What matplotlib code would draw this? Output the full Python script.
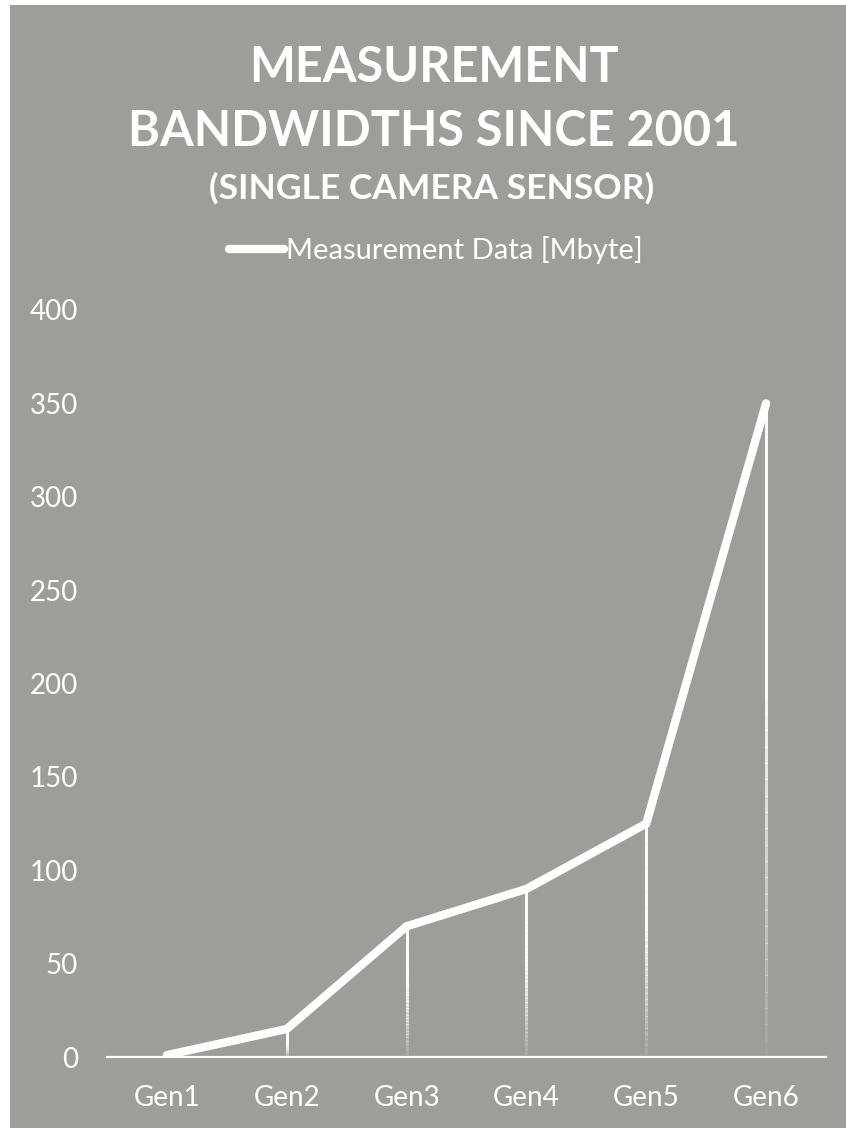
import numpy as np
import matplotlib.pyplot as plt
from matplotlib.collections import LineCollection
from matplotlib.patches import Rectangle

# camera sensor measurement data per generation
generations = ['Gen1', 'Gen2', 'Gen3', 'Gen4', 'Gen5', 'Gen6']
mbytes = [1, 15, 70, 90, 125, 350]
yticks = [0, 50, 100, 150, 200, 250, 300, 350, 400]

bg = '#9d9d9b'
fg = 'white'
plt.rcParams['font.family'] = ['Lato', 'DejaVu Sans']

fig = plt.figure(figsize=(8.46, 11.28), dpi=100)
fig.patch.set_facecolor('white')
# grey panel with a thin white margin at the top and left
fig.patches.append(Rectangle((10 / 846, 0), 1, 1 - 5 / 1128, transform=fig.transFigure,
                             facecolor=bg, edgecolor='none', zorder=-5))

ax = fig.add_axes([107 / 846, 1 - 1057 / 1128, (826 - 107) / 846, (1057 - 310) / 1128])
ax.set_zorder(2)
ax.set_facecolor('none')
x = np.arange(len(generations))

# fading drop lines from each point down to the axis
segs, cols = [], []
for xi, v in zip(x, mbytes):
    ys = np.linspace(0, v, 41)
    for i in range(40):
        segs.append([(xi, ys[i]), (xi, ys[i + 1])])
        frac = (i + 0.5) / 40
        cols.append((1, 1, 1, min(0.95, 0.05 + 1.6 * frac)))
ax.add_collection(LineCollection(segs, colors=cols, linewidths=1.8, capstyle='butt',
                                 antialiased=False, zorder=2))

ax.plot(x, mbytes, color=fg, lw=6, solid_capstyle='round', solid_joinstyle='miter',
        label='Measurement Data [Mbyte]', zorder=3)

ax.set_xlim(-0.5, len(generations) - 0.5)
ax.set_ylim(0, 400)
ax.set_xticks(x)
ax.set_xticklabels(generations)
ax.set_yticks(yticks)
ax.tick_params(axis='both', length=0, colors=fg, labelsize=20)
ax.tick_params(axis='y', pad=21)
ax.tick_params(axis='x', pad=20)
for sp in ['top', 'right', 'left']:
    ax.spines[sp].set_visible(False)
ax.spines['bottom'].set_color(fg)
ax.spines['bottom'].set_linewidth(1.6)

fig.text(0.513, 1 - 67 / 1128, 'MEASUREMENT', ha='center', va='center',
         color=fg, fontsize=35, fontweight='bold')
fig.text(0.513, 1 - 132 / 1128, 'BANDWIDTHS SINCE 2001', ha='center', va='center',
         color=fg, fontsize=35, fontweight='bold')
fig.text(0.51, 1 - 188 / 1128, '(SINGLE CAMERA SENSOR)', ha='center', va='center',
         color=fg, fontsize=25.5, fontweight='bold')

leg = ax.legend(loc='center', bbox_to_anchor=(0.515, 1 - 250 / 1128), bbox_transform=fig.transFigure,
                frameon=False, fontsize=21, handlelength=1.9, handletextpad=0.05)
for t in leg.get_texts():
    t.set_color(fg)

fig.savefig('out.png', dpi=100, facecolor=fig.get_facecolor())
